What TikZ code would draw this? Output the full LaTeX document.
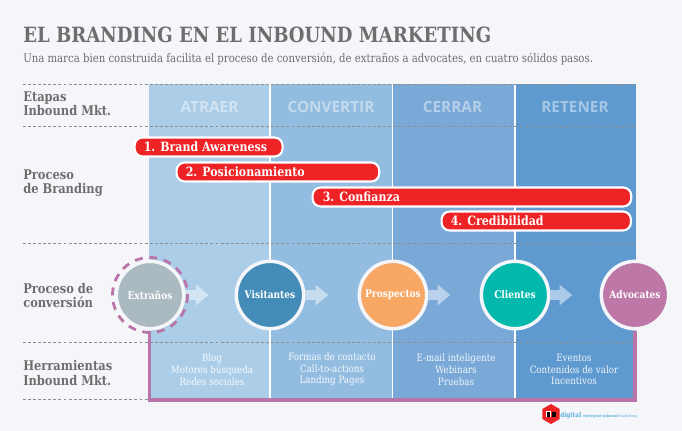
\documentclass[tikz,border=0pt]{standalone}
\usepackage{fontspec}
\setmainfont[FakeStretch=0.86]{DejaVu Serif}
\newfontfamily\sanslabel{Open Sans}
\usetikzlibrary{arrows.meta,shapes.geometric}
\definecolor{bgc}{HTML}{F5F6FA}
\definecolor{txt}{HTML}{6E6E6E}
\definecolor{colA}{HTML}{ABCDE8}
\definecolor{colB}{HTML}{92BCE0}
\definecolor{colC}{HTML}{7AA9D8}
\definecolor{colD}{HTML}{5E9AD0}
\definecolor{barred}{HTML}{EE2326}
\definecolor{purp}{HTML}{B975A8}
\definecolor{dashc}{HTML}{8E8E8E}
\definecolor{cExt}{HTML}{ABB9C1}
\definecolor{cVis}{HTML}{438CB8}
\definecolor{cPro}{HTML}{F8A765}
\definecolor{cCli}{HTML}{04B9AC}
\definecolor{cAdv}{HTML}{BE78A8}
\definecolor{logoblue}{HTML}{5BB0E0}
\tikzset{
  x=0.75pt,y=-0.75pt,
  divider/.style={white,line width=1.1pt},
  guide/.style={dashc,line width=0.6pt,dash pattern=on 2.2pt off 1.6pt},
  rowlabel/.style={text=txt,font=\fontsize{10}{10.7}\selectfont\bfseries,align=left,anchor=west,inner sep=0pt},
  stage/.style={font=\sanslabel\fontsize{11.5}{14}\selectfont\bfseries,text=white,text opacity=0.45,inner sep=0pt},
  bar/.style={draw=white,line width=1.6pt,fill=barred,rounded corners=6pt,minimum height=14.2pt,inner sep=0pt,anchor=west},
  barlabel/.style={text=white,font=\fontsize{9.6}{11}\selectfont\bfseries,anchor=base west,inner sep=0pt},
  stepc/.style={circle,draw=bgc,line width=2.6pt,minimum size=50.5pt,inner sep=0pt,outer sep=1.3pt,text=white,font=\fontsize{7.9}{9}\selectfont\bfseries},
  flow/.style={-{Triangle[length=9.5pt,width=15pt]},line width=7pt},
  tools/.style={text=white,text opacity=0.9,font=\fontsize{7.6}{8.8}\selectfont,align=center,inner sep=0pt},
}
\begin{document}
\begin{tikzpicture}
\useasboundingbox (0,0) rectangle (682,431);
\fill[bgc] (0,0) rectangle (682,431);
% columns
\fill[colA] (149,84) rectangle (270,399);
\fill[colB] (270,84) rectangle (392.5,399);
\fill[colC] (392.5,84) rectangle (515,399);
\fill[colD] (515,84) rectangle (636,399);
\draw[divider] (270,84) -- (270,399);
\draw[divider] (392.5,84) -- (392.5,399);
\draw[divider] (515,84) -- (515,399);
% guides
\coordinate (gl1) at (23,84); \coordinate (gr1) at (636,84);
\coordinate (gl2) at (23,126); \coordinate (gr2) at (636,126);
\coordinate (gl3) at (23,243.5); \coordinate (gr3) at (636,243.5);
\coordinate (gl4) at (23,342); \coordinate (gr4) at (636,342);
\coordinate (gl5) at (23,399); \coordinate (gr5) at (636,399);
\foreach \i in {1,...,5} \draw[guide] (gl\i) -- (gr\i);
% title
\node[anchor=base west,inner sep=0pt,text=txt,font=\fontsize{15.75}{18}\selectfont\bfseries] (title) at (23,43) {EL BRANDING EN EL INBOUND MARKETING};
\node[anchor=base west,inner sep=0pt,text=txt,font=\fontsize{8.84}{10}\selectfont] (sub) at (23,63) {Una marca bien construida facilita el proceso de conversión, de extraños a advocates, en cuatro sólidos pasos.};
% row labels
\node[rowlabel] (r1) at (23,104) {Etapas\\Inbound Mkt.};
\node[rowlabel] (r2) at (23,183) {Proceso\\de Branding};
\node[rowlabel] (r3) at (23,295.5) {Proceso de\\conversión};
\node[rowlabel] (r4) at (23,373) {Herramientas\\Inbound Mkt.};
% stages
\node[stage] (s1) at (209.5,107) {ATRAER};
\node[stage] (s2) at (331,107) {CONVERTIR};
\node[stage] (s3) at (452.5,107) {CERRAR};
\node[stage] (s4) at (575,107) {RETENER};
% bars
\node[bar,minimum width=111pt] (b1) at (133.5,147) {};
\node[barlabel] (b1t) at (143.5,151.5) {1. Brand Awareness};
\node[bar,minimum width=152pt] (b2) at (175.5,172) {};
\node[barlabel] (b2t) at (185.5,176.5) {2. Posicionamiento};
\node[bar,minimum width=239pt] (b3) at (311.5,197) {};
\node[barlabel] (b3t) at (322.5,201.5) {3. Confianza};
\node[bar,minimum width=142pt] (b4) at (440.5,221) {};
\node[barlabel] (b4t) at (450.5,225.5) {4. Credibilidad};
% circle anchors and frame
\coordinate (cext) at (150,295);
\coordinate (cadv) at (635,295);
\draw[purp,line width=2.7pt] (149.5,331) -- (149.5,400) -- (635,400) -- (635,331);
% circles
\node[stepc,fill=cExt] (ext) at (cext) {Extraños};
\node[stepc,fill=cVis] (vis) at (270,295) {Visitantes};
\node[stepc,fill=cPro] (pro) at (393,295) {Prospectos};
\node[stepc,fill=cCli] (cli) at (515,295) {Clientes};
\node[stepc,fill=cAdv] (adv) at (cadv) {Advocates};
% flow arrows
\draw[flow,white!48!colA,shorten >=19.5pt] (ext) -- (vis);
\draw[flow,white!48!colB,shorten >=22pt] (vis) -- (pro);
\draw[flow,white!48!colC,shorten >=22pt] (pro) -- (cli);
\draw[flow,white!48!colD,shorten >=20.5pt] (cli) -- (adv);
\draw[purp,line width=2.1pt,dash pattern=on 6pt off 5pt] (cext) circle (37.5);
% tools
\node[tools] (t1) at (212,369.5) {Blog\\Motores búsqueda\\Redes sociales};
\node[tools] (t2) at (332,369.5) {Formas de contacto\\Call-to-actions\\Landing Pages};
\node[tools] (t3) at (456,369.5) {E-mail inteligente\\Webinars\\Pruebas};
\node[tools] (t4) at (574,369.5) {Eventos\\Contenidos de valor\\Incentivos};
% logo
\node[regular polygon,regular polygon sides=6,shape border rotate=30,fill=barred,minimum size=15pt,inner sep=0pt] (logo) at (551,414) {};
\fill[white] (546,411) rectangle (551,417);
\fill[black] (547,411.5) rectangle (550,416.5);
\fill[black] (552,411.5) rectangle (556,416.5);
\node[anchor=base west,inner sep=0pt,text=logoblue,font=\fontsize{5}{6}\selectfont\bfseries] (lg1) at (560,417) {digital};
\node[anchor=base west,inner sep=0pt,text=logoblue,font=\fontsize{2.9}{4}\selectfont] (lg2) at (582.5,417) {\textbf{enterprise inbound} marketing};
\end{tikzpicture}
\end{document}
